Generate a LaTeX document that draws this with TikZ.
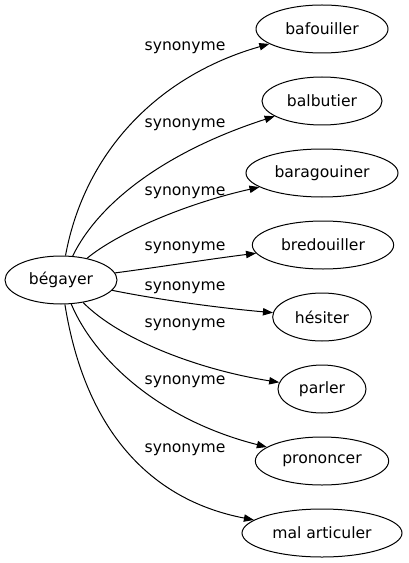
\documentclass[tikz,border=0pt]{standalone}
\usepackage{fontspec}
\setmainfont{DejaVu Sans}
\usetikzlibrary{arrows.meta,shapes.geometric}

\tikzset{
  word/.style={draw,ellipse,line width=0.75,minimum height=36pt,inner sep=0pt,font=\fontsize{11.7}{14}\selectfont},
  syn/.style={line width=0.75,-{Triangle[length=7.5pt,width=5.5pt]}},
  synlabel/.style={inner sep=0pt,font=\fontsize{11.7}{14}\selectfont}
}

\begin{document}
\begin{tikzpicture}[x=0.75pt,y=0.75pt,yscale=-1,xscale=1]
\useasboundingbox (0,0) rectangle (408,563); %set diagram size

% Word Nodes
\node [word,minimum width=84pt] (begayer) at (61,280) {bégayer};
\node [word,minimum width=99pt] (bafouiller) at (322,29) {bafouiller};
\node [word,minimum width=90pt] (balbutier) at (322,101) {balbutier};
\node [word,minimum width=114pt] (baragouiner) at (322,173) {baragouiner};
\node [word,minimum width=106pt] (bredouiller) at (323,245) {bredouiller};
\node [word,minimum width=74pt] (hesiter) at (322,317) {hésiter};
\node [word,minimum width=66pt] (parler) at (322,389) {parler};
\node [word,minimum width=100pt] (prononcer) at (322,461) {prononcer};
\node [word,minimum width=120pt] (malarticuler) at (322,533) {mal articuler};

%Curve Lines
\draw [syn] (begayer) .. controls (85,150) and (160,75) .. (bafouiller);
\draw [syn] (begayer) .. controls (100,200) and (170,150) .. (balbutier);
\draw [syn] (begayer) .. controls (115,235) and (180,205) .. (baragouiner);
\draw [syn] (begayer) .. controls (160,267) and (210,259) .. (bredouiller);
\draw [syn] (begayer) .. controls (160,300) and (220,308) .. (hesiter);
\draw [syn] (begayer) .. controls (120,340) and (200,370) .. (parler);
\draw [syn] (begayer) .. controls (95,360) and (160,420) .. (prononcer);
\draw [syn] (begayer) .. controls (85,430) and (150,500) .. (malarticuler);

% Text Node
\node [synlabel] (l1) at (185,48) {synonyme};
\node [synlabel] (l2) at (185,125) {synonyme};
\node [synlabel] (l3) at (185,193) {synonyme};
\node [synlabel] (l4) at (185,248) {synonyme};
\node [synlabel] (l5) at (185,288) {synonyme};
\node [synlabel] (l6) at (185,325) {synonyme};
\node [synlabel] (l7) at (185,382) {synonyme};
\node [synlabel] (l8) at (185,450) {synonyme};

\end{tikzpicture}
\end{document}
